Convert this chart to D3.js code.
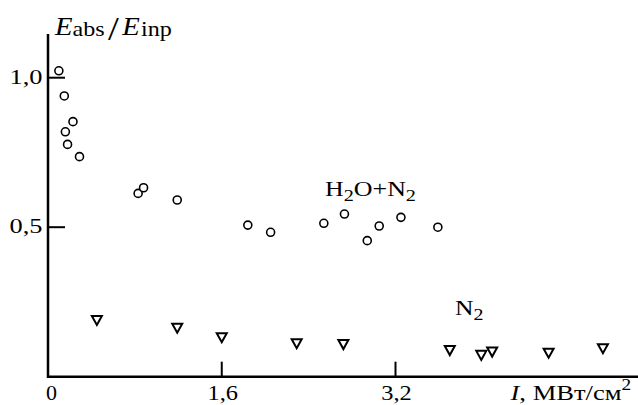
<!DOCTYPE html>
<html>
<head>
<meta charset="utf-8">
<script src="https://cdn.jsdelivr.net/npm/d3@7"></script>
<style>
  body { margin: 0; background: #fff; }
  svg { display: block; font-family: "Liberation Serif", "Times New Roman", serif; }
</style>
</head>
<body>
<div id="viz"></div>
<script>
// H2O+N2 series (circles)
var h2oX = [0.10, 0.15, 0.23, 0.16, 0.18, 0.29, 0.83, 0.88, 1.19, 1.84, 2.05, 2.54, 2.73, 2.94, 3.05, 3.25, 3.59];
var h2oY = [1.023, 0.939, 0.853, 0.819, 0.777, 0.736, 0.613, 0.632, 0.591, 0.507, 0.483, 0.513, 0.544, 0.455, 0.504, 0.533, 0.50];

// N2 series (triangles)
var n2X = [0.45, 1.19, 1.60, 2.29, 2.72, 3.70, 3.99, 4.09, 4.61, 5.11];
var n2Y = [0.19, 0.164, 0.132, 0.112, 0.109, 0.089, 0.073, 0.084, 0.080, 0.095];

var xTicks = [0, 1.6, 3.2];
var xTickLabels = ["0", "1,6", "3,2"];
var yTicks = [0.5, 1.0];
var yTickLabels = ["0,5", "1,0"];

var width = 638, height = 405;

var svg = d3.select("#viz").append("svg")
  .attr("width", width)
  .attr("height", height);

var x = d3.scaleLinear().domain([0, 3.2]).range([48, 395.5]);
var y = d3.scaleLinear().domain([0, 1]).range([376.7, 77.7]);

// text helper: draws text then stretches it horizontally to the wanted width
function label(px, py, size, anchor, w, build){
  var g = svg.append("g");
  var t = g.append("text").attr("font-size", size).attr("text-anchor", anchor);
  build(t);
  var s = w / t.node().getBBox().width;
  g.attr("transform", "translate(" + px + "," + py + ") scale(" + s + ",1)");
  return g;
}

// axes lines
svg.append("line")
  .attr("x1", x(0)).attr("x2", width)
  .attr("y1", y(0)).attr("y2", y(0))
  .attr("stroke", "#000").attr("stroke-width", 2.5);

svg.append("line")
  .attr("x1", x(0)).attr("x2", x(0))
  .attr("y1", 34).attr("y2", y(0) + 1.2)
  .attr("stroke", "#000").attr("stroke-width", 2.5);

// x ticks (pointing up)
svg.selectAll(".xt")
  .data(xTicks.filter(function(d){return d > 0}))
  .enter().append("line")
  .attr("x1", function(d){return x(d)}).attr("x2", function(d){return x(d)})
  .attr("y1", y(0)).attr("y2", y(0) - 15)
  .attr("stroke", "#000").attr("stroke-width", 2);

xTicks.forEach(function(d, i){
  var txt = xTickLabels[i];
  label(i == 0 ? x(d) + 3.5 : x(d) + 1, 400, 22, "middle", txt.length == 1 ? 11 : 30.5, function(t){ t.text(txt) });
});

// y ticks (pointing right)
svg.selectAll(".yt")
  .data(yTicks)
  .enter().append("line")
  .attr("x1", x(0)).attr("x2", x(0) + 17)
  .attr("y1", function(d){return y(d)}).attr("y2", function(d){return y(d)})
  .attr("stroke", "#000").attr("stroke-width", 2);

yTicks.forEach(function(d, i){
  var txt = yTickLabels[i];
  label(42.5, y(d) + 6, 22, "end", 33, function(t){ t.text(txt) });
});

// circles
svg.selectAll(".c")
  .data(h2oX.map(function(v, i){return [v, h2oY[i]]}))
  .enter().append("circle")
  .attr("cx", function(d){return x(d[0])})
  .attr("cy", function(d){return y(d[1])})
  .attr("r", 4)
  .attr("fill", "#fff")
  .attr("stroke", "#000")
  .attr("stroke-width", 1.6);

// down triangles
svg.selectAll(".t")
  .data(n2X.map(function(v, i){return [v, n2Y[i]]}))
  .enter().append("path")
  .attr("d", function(d){
    var cx = x(d[0]), cy = y(d[1]);
    return "M" + (cx - 5) + "," + (cy - 4) + "L" + (cx + 5) + "," + (cy - 4) + "L" + cx + "," + (cy + 5) + "Z";
  })
  .attr("fill", "#fff")
  .attr("stroke", "#000")
  .attr("stroke-width", 2)
  .attr("stroke-linejoin", "miter");

// y axis label
label(55, 35, 25, "start", 118, function(t){
  t.append("tspan").attr("font-style", "italic").text("E");
  t.append("tspan").attr("font-size", 21).attr("dy", 1).text("abs");
  t.append("tspan").attr("font-size", 34).attr("dy", 4).attr("dx", 3).text("/");
  t.append("tspan").attr("font-style", "italic").attr("dy", -5).attr("dx", 3).text("E");
  t.append("tspan").attr("font-size", 21).attr("dy", 1).attr("dx", 1).text("inp");
});

// x axis label
label(510.5, 400, 22, "start", 122, function(t){
  t.append("tspan").attr("font-style", "italic").text("I");
  t.append("tspan").text(", МВт/см");
  t.append("tspan").attr("font-size", 16).attr("dy", -10).text("2");
});

// series labels
label(325, 196, 20.5, "start", 91, function(t){
  t.append("tspan").text("H");
  t.append("tspan").attr("font-size", 16).attr("dy", 5).text("2");
  t.append("tspan").attr("dy", -5).text("O+N");
  t.append("tspan").attr("font-size", 16).attr("dy", 5).text("2");
});

label(455, 315, 20.5, "start", 28.5, function(t){
  t.append("tspan").text("N");
  t.append("tspan").attr("font-size", 16).attr("dy", 5).text("2");
});
</script>
</body>
</html>
